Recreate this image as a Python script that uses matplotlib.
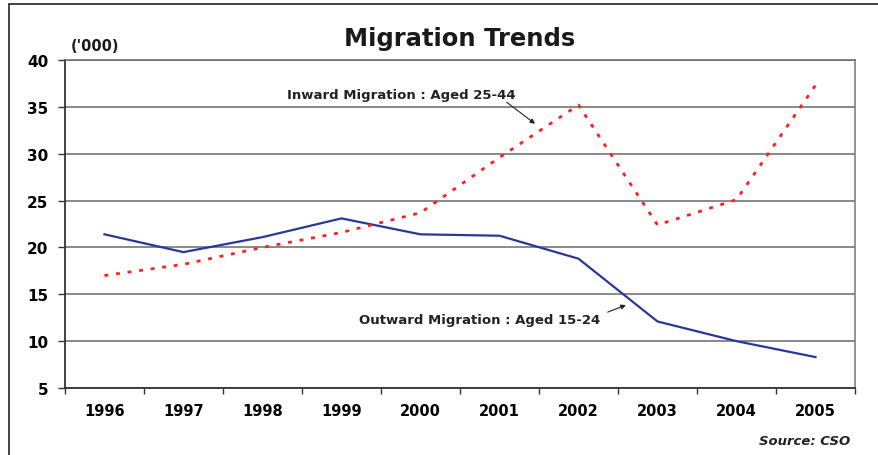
import matplotlib.pyplot as plt
from matplotlib.patches import Rectangle
from matplotlib.ticker import FixedLocator

plt.rcParams['font.family'] = ['DejaVu Sans']

years = ['1996', '1997', '1998', '1999', '2000', '2001', '2002', '2003', '2004', '2005']
outward_15_24 = [21.4, 19.5, 21.1, 23.1, 21.4, 21.25, 18.8, 12.1, 10.0, 8.3]
inward_25_44 = [17.0, 18.2, 20.0, 21.6, 23.7, 29.6, 35.2, 22.4, 25.1, 37.3]
y_ticks = [5, 10, 15, 20, 25, 30, 35, 40]

fig = plt.figure(figsize=(8.79, 4.56), dpi=100)
ax: plt.Axes = fig.add_axes([0.0739, 0.1469, 0.8988, 0.7193])

# outer frame, runs off the right and bottom edges
fig.patches.append(Rectangle((9 / 879, -0.05), 1.0, 1 - 5 / 456 + 0.05,
                             transform=fig.transFigure, fill=False,
                             edgecolor='#222222', linewidth=1.2))

pos = list(range(len(years)))
ax.plot(pos, outward_15_24, color='#28389A', linewidth=1.6, zorder=3)
ax.plot(pos, inward_25_44, color='#FF1E1E', linewidth=2.0,
        linestyle=(0, (1.4, 2.8)), zorder=3)

ax.set_xlim(-0.5, len(years) - 0.5)
ax.set_ylim(5, 40)
ax.set_yticks(y_ticks)
ax.set_yticklabels([str(v) for v in y_ticks], fontsize=11, fontweight='bold')
ax.grid(axis='y', color='#6a6a6a', linewidth=1.1)
ax.set_axisbelow(True)

# category axis: ticks on the boundaries, labels in the middle
ax.xaxis.set_major_locator(FixedLocator([i - 0.5 for i in range(len(years) + 1)]))
ax.xaxis.set_minor_locator(FixedLocator(pos))
ax.set_xticklabels([])
ax.set_xticklabels(years, minor=True, fontsize=10.5, fontweight='bold')
ax.tick_params(axis='x', which='major', length=4, width=1, color='#333333', direction='out')
ax.tick_params(axis='x', which='minor', length=0, pad=11)
ax.tick_params(axis='y', length=5, width=1, color='#333333', pad=7)

for side in ['left', 'bottom']:
    ax.spines[side].set_color('#333333')
    ax.spines[side].set_linewidth(1.3)
ax.spines['top'].set_color('#6a6a6a')
ax.spines['top'].set_linewidth(1.1)
ax.spines['right'].set_color('#777777')
ax.spines['right'].set_linewidth(1.1)

fig.text(0.523, 0.915, 'Migration Trends', ha='center', va='center',
         fontsize=17.5, fontweight='bold', color='#1a1a1a')
fig.text(0.080, 0.897, "('000)", ha='left', va='center',
         fontsize=10.5, fontweight='bold', color='#1a1a1a')

# series labels with their pointer arrows
ax.text(5.20, 36.3, 'Inward Migration : Aged 25-44', ha='right', va='center',
        fontsize=9.5, fontweight='bold', color='#222222')
ax.annotate('', xy=(5.45, 33.2), xytext=(5.09, 35.5),
            arrowprops=dict(arrowstyle='-|>', color='#222222', lw=0.8,
                            mutation_scale=7, shrinkA=0, shrinkB=0))
ax.text(6.27, 12.35, 'Outward Migration : Aged 15-24', ha='right', va='center',
        fontsize=9.5, fontweight='bold', color='#222222')
ax.annotate('', xy=(6.60, 13.85), xytext=(6.37, 13.1),
            arrowprops=dict(arrowstyle='-|>', color='#222222', lw=0.8,
                            mutation_scale=7, shrinkA=0, shrinkB=0))

fig.text(0.967, 0.031, 'Source: CSO', ha='right', va='center',
         fontsize=9.5, fontweight='bold', fontstyle='italic', color='#222222')

plt.savefig('out.png', dpi=100)
